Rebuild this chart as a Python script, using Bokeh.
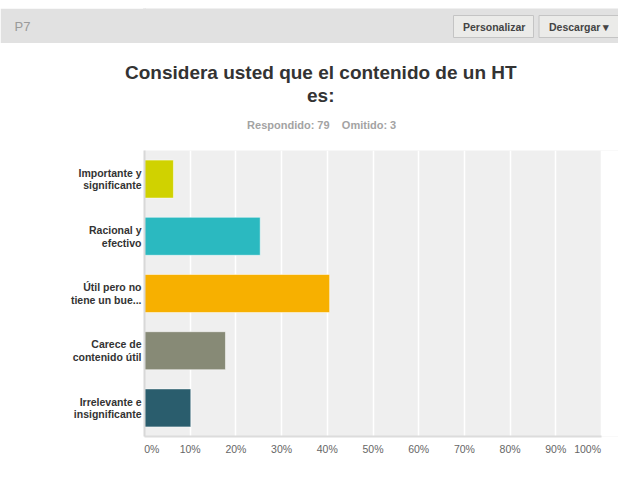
from bokeh.plotting import figure
from bokeh.models import FactorRange, Range1d, FixedTicker, ColumnDataSource, Title, Spacer, BoxAnnotation
from bokeh.layouts import column
from bokeh.core.properties import value
from bokeh.embed import file_html
from bokeh.resources import INLINE

# ---- data ----
categories = ["Importante y\nsignificante", "Racional y\nefectivo", "Útil pero no\ntiene un bue...",
              "Carece de\ncontenido útil", "Irrelevante e\ninsignificante"]
percentages = [6.33, 25.32, 40.51, 17.72, 10.13]
bar_colors = ["#d0d200", "#2bb9c0", "#f7b000", "#878a76", "#2a5d6d"]
tick_values = [0, 10, 20, 30, 40, 50, 60, 70, 80, 90, 100]
tick_labels = ["0%", "10%", "20%", "30%", "40%", "50%", "60%", "70%", "80%", "90%", "100%"]
title_line1 = "Considera usted que el contenido de un HT"
title_line2 = "es:"
subtitle = "Respondido: 79\u00a0\u00a0\u00a0\u00a0Omitido: 3"
header_label = "P7"
button_labels = ["Personalizar", "Descargar \u25be"]

FONT = "Liberation Sans"
W = 618
HDR_GREY = "#e1e1e1"
X_END = 100 * (618 - 144) / 457.0   # frame runs to the canvas edge, 100% sits at x=601

# ---- header bar (page y 8..43) ----
hdr = figure(width=W, height=35, x_range=Range1d(144, 618), y_range=Range1d(43, 8),
             output_backend="svg", toolbar_location=None,
             min_border_left=144, min_border_right=0, min_border_top=0, min_border_bottom=0,
             background_fill_color=HDR_GREY, border_fill_color=HDR_GREY, outline_line_color=None)
hdr.xaxis.visible = False
hdr.grid.visible = False
hdr.yaxis.ticker = FixedTicker(ticks=[26])
hdr.yaxis.major_label_overrides = {26: header_label}
hdr.yaxis.major_label_text_font = FONT
hdr.yaxis.major_label_text_font_size = "13px"
hdr.yaxis.major_label_text_color = "#9a9a9a"
hdr.yaxis.major_label_standoff = 114
hdr.yaxis.axis_line_color = HDR_GREY
hdr.yaxis.axis_line_width = 3
hdr.yaxis.major_tick_line_color = None
hdr.yaxis.minor_tick_line_color = None
hdr.yaxis.major_tick_out = 0
hdr.yaxis.major_tick_in = 0

btn = ColumnDataSource(dict(left=[453, 538.5], right=[533, 640], top=[15, 15], bottom=[37, 37],
                            tx=[462.5, 548.5], label=button_labels))
hdr.quad(left="left", right="right", top="top", bottom="bottom", source=btn,
         fill_color="#ebebe9", line_color="#c4c4c4", line_width=1)
hdr.text(x="tx", y=26, text="label", source=btn, text_font=value(FONT), text_font_size="10.5px",
         text_font_style="bold", text_color="#444444", text_baseline="middle", text_align="left")

# ---- chart (page y 43..477) ----
src = ColumnDataSource(dict(cat=categories, val=percentages, color=bar_colors))
p = figure(width=W, height=434, y_range=FactorRange(*reversed(categories), range_padding=0),
           x_range=Range1d(0, X_END), output_backend="svg", toolbar_location=None,
           min_border_left=144, min_border_right=0, min_border_top=107, min_border_bottom=41,
           background_fill_color="#efefef", border_fill_color="white", outline_line_color=None)
p.add_layout(BoxAnnotation(left=100, fill_color="white", fill_alpha=1, line_color=None, level="underlay"))
p.hbar(y="cat", right="val", left=0, height=0.664, fill_color="color",
       line_color="white", line_alpha=0.5, line_width=1, source=src)

# title stack, nearest the frame first
p.add_layout(Title(text="\u00a0", text_font_size="1px", standoff=4.6), "above")
p.add_layout(Title(text=subtitle, align="left", offset=102.6, text_font=FONT, text_font_size="11px",
                   text_font_style="bold", text_color="#a3a3a3", standoff=23), "above")
p.add_layout(Title(text=title_line2, align="left", offset=162.5, text_font=FONT, text_font_size="19px",
                   text_font_style="bold", text_color="#333333", standoff=0), "above")
p.add_layout(Title(text=title_line1, align="left", offset=-19.5, text_font=FONT, text_font_size="19px",
                   text_font_style="bold", text_color="#333333", standoff=0), "above")

p.xaxis.ticker = FixedTicker(ticks=tick_values)
p.xaxis.bounds = (0, 100)
overrides = {v: l for v, l in zip(tick_values, tick_labels)}
overrides[0] = "\u00a0" * 5 + tick_labels[0]
overrides[100] = tick_labels[-1] + "\u00a0" * 6
p.xaxis.major_label_overrides = overrides
p.xaxis.major_label_text_font = FONT
p.xaxis.major_label_text_font_size = "10.5px"
p.xaxis.major_label_text_color = "#666666"
p.xaxis.major_label_standoff = 6
p.xaxis.axis_line_color = "#dcdcdc"
p.xaxis.axis_line_width = 2
p.xaxis.major_tick_line_color = None
p.xaxis.minor_tick_line_color = None
p.xaxis.major_tick_out = 0
p.xaxis.major_tick_in = 0

p.yaxis.major_label_text_font = FONT
p.yaxis.major_label_text_font_size = "10.5px"
p.yaxis.major_label_text_font_style = "bold"
p.yaxis.major_label_text_color = "#333333"
p.yaxis.major_label_text_line_height = 1.05
p.yaxis.major_label_standoff = 3
p.yaxis.axis_line_color = "#d8d8d8"
p.yaxis.axis_line_width = 2
p.yaxis.major_tick_line_color = None
p.yaxis.minor_tick_line_color = None
p.yaxis.major_tick_out = 0
p.yaxis.major_tick_in = 0

p.xgrid.grid_line_color = "white"
p.xgrid.grid_line_width = 1.5
p.ygrid.grid_line_color = None

layout = column(Spacer(width=W, height=8), hdr, p, spacing=0)
open("out.html", "w").write(file_html(layout, INLINE))
